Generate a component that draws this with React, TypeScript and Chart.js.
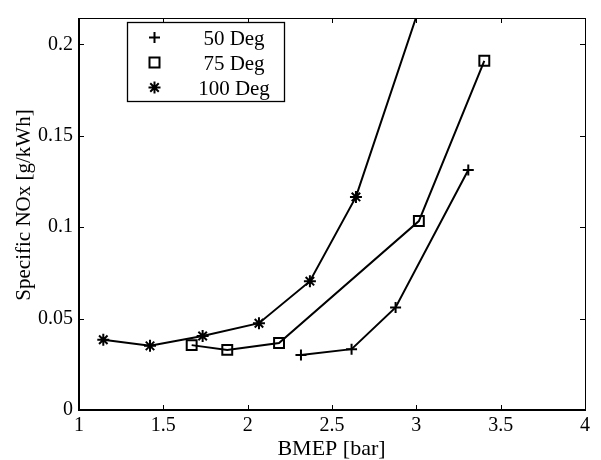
import React, { useEffect, useRef } from "react";
import { Chart, registerables } from "chart.js";

Chart.register(...registerables);

const seriesNames = ["50 Deg", "75 Deg", "100 Deg"];
const x50 = [2.316, 2.616, 2.877, 3.308];
const y50 = [0.0301, 0.0333, 0.0561, 0.1313];
const x75 = [1.668, 1.879, 2.186, 3.015, 3.403];
const y75 = [0.0355, 0.0329, 0.0367, 0.1034, 0.1911];
const x100 = [1.144, 1.421, 1.733, 2.067, 2.369, 2.642, 3.05];
const y100 = [0.0384, 0.0351, 0.0405, 0.0475, 0.0705, 0.1166, 0.2290];
const xTickStep = 0.5;
const yTickStep = 0.05;
const xTitle = "BMEP [bar]";
const yTitle = "Specific NOx [g/kWh]";

const FONT = "'Liberation Serif', 'Times New Roman', serif";

const toPoints = (xs: number[], ys: number[]) => xs.map((x, i) => ({ x, y: ys[i] }));
const fmt = (v: any) => String(Math.round(Number(v) * 100) / 100);

function drawMarker(ctx: CanvasRenderingContext2D, style: string, x: number, y: number) {
  ctx.save();
  ctx.strokeStyle = "#000";
  ctx.lineWidth = 2;
  ctx.beginPath();
  if (style === "cross") {
    const r = 5.5;
    ctx.moveTo(x - r, y); ctx.lineTo(x + r, y);
    ctx.moveTo(x, y - r); ctx.lineTo(x, y + r);
  } else if (style === "rect") {
    const s = 5;
    ctx.rect(x - s, y - s, 2 * s, 2 * s);
  } else {
    const r = 6;
    const d = r * Math.SQRT1_2;
    ctx.moveTo(x - r, y); ctx.lineTo(x + r, y);
    ctx.moveTo(x, y - r); ctx.lineTo(x, y + r);
    ctx.moveTo(x - d, y - d); ctx.lineTo(x + d, y + d);
    ctx.moveTo(x - d, y + d); ctx.lineTo(x + d, y - d);
  }
  ctx.stroke();
  ctx.restore();
}

const framePlugin = {
  id: "matlabFrame",
  afterDraw(chart: any) {
    const { ctx, chartArea } = chart;
    const { left, right, top, bottom } = chartArea;
    const xs = chart.scales.x;
    const ys = chart.scales.y;
    ctx.save();
    ctx.strokeStyle = "#000";
    ctx.lineWidth = 1;
    ctx.beginPath();
    ctx.moveTo(left, top + 0.5); ctx.lineTo(right, top + 0.5);
    ctx.moveTo(right + 0.5, top); ctx.lineTo(right + 0.5, bottom);
    ctx.stroke();
    const tl = 5;
    ctx.beginPath();
    xs.ticks.forEach((t: any) => {
      const px = Math.round(xs.getPixelForValue(t.value)) + 0.5;
      ctx.moveTo(px, bottom); ctx.lineTo(px, bottom - tl);
      ctx.moveTo(px, top); ctx.lineTo(px, top + tl);
    });
    ys.ticks.forEach((t: any) => {
      const py = Math.round(ys.getPixelForValue(t.value)) + 0.5;
      ctx.moveTo(left, py); ctx.lineTo(left + tl, py);
      ctx.moveTo(right, py); ctx.lineTo(right - tl, py);
    });
    ctx.stroke();
    ctx.lineWidth = 2;
    ctx.beginPath();
    ctx.moveTo(left, top); ctx.lineTo(left, bottom + 1);
    ctx.moveTo(left - 1, bottom); ctx.lineTo(right + 1, bottom);
    ctx.stroke();

    ctx.fillStyle = "#000";
    ctx.font = `22px ${FONT}`;
    ctx.textAlign = "center";
    ctx.textBaseline = "alphabetic";
    ctx.fillText(xTitle, (left + right) / 2 - 0.5, 455);
    ctx.save();
    ctx.translate(30, 205);
    ctx.rotate(-Math.PI / 2);
    ctx.font = `21px ${FONT}`;
    ctx.fillText(yTitle, 0, 0);
    ctx.restore();

    const bx = 127, by = 22, bw = 157, bh = 79;
    ctx.fillStyle = "#fff";
    ctx.fillRect(bx, by, bw, bh);
    ctx.lineWidth = 1.3;
    ctx.strokeRect(bx + 0.5, by + 0.5, bw, bh);
    const styles = ["cross", "rect", "star"];
    ctx.fillStyle = "#000";
    ctx.font = `21px ${FONT}`;
    ctx.textAlign = "center";
    seriesNames.forEach((name, i) => {
      const cy = 37.5 + i * 25;
      drawMarker(ctx, styles[i], 154.5, cy);
      ctx.fillText(name, 234, cy + 7);
    });
    ctx.restore();
  },
};

export default function App() {
  const ref = useRef<HTMLCanvasElement | null>(null);
  useEffect(() => {
    if (!ref.current) return;
    const common = {
      borderColor: "#000",
      borderWidth: 2,
      pointBorderColor: "#000",
      pointBackgroundColor: "rgba(0,0,0,0)",
      pointBorderWidth: 2,
      showLine: true,
      tension: 0,
    };
    const chart = new Chart(ref.current, {
      type: "scatter",
      data: {
        datasets: [
          { ...common, label: seriesNames[0], data: toPoints(x50, y50), pointStyle: "cross", pointRadius: 5.5 },
          { ...common, label: seriesNames[1], data: toPoints(x75, y75), pointStyle: "rect", pointRadius: 7 },
          { ...common, label: seriesNames[2], data: toPoints(x100, y100), pointStyle: "star", pointRadius: 6 },
        ],
      },
      options: {
        responsive: false,
        animation: false,
        layout: { padding: { top: 13, right: 16, left: 0, bottom: 0 } },
        plugins: { legend: { display: false }, tooltip: { enabled: false } },
        scales: {
          x: {
            type: "linear",
            min: 1,
            max: 4,
            grid: { display: false, drawTicks: false },
            border: { display: false },
            ticks: {
              stepSize: xTickStep,
              color: "#000",
              font: { family: FONT, size: 20 },
              padding: 4,
              maxRotation: 0,
              callback: fmt,
            },
            afterFit: (s: any) => { s.height = 50; },
          },
          y: {
            type: "linear",
            min: 0,
            max: 0.2145,
            grid: { display: false, drawTicks: false },
            border: { display: false },
            ticks: {
              stepSize: yTickStep,
              color: "#000",
              font: { family: FONT, size: 20 },
              padding: 6,
              callback: fmt,
            },
            afterBuildTicks: (s: any) => {
              s.ticks = s.ticks.filter((t: any) => Math.abs(t.value / yTickStep - Math.round(t.value / yTickStep)) < 1e-6);
            },
            afterFit: (s: any) => { s.width = 79; },
          },
        },
      },
      plugins: [framePlugin],
    });
    return () => chart.destroy();
  }, []);
  return (
    <div style={{ position: "absolute", left: 0, top: 0, width: 601, height: 460, background: "#fff" }}>
      <canvas ref={ref} width={601} height={460} style={{ display: "block" }} />
    </div>
  );
}
